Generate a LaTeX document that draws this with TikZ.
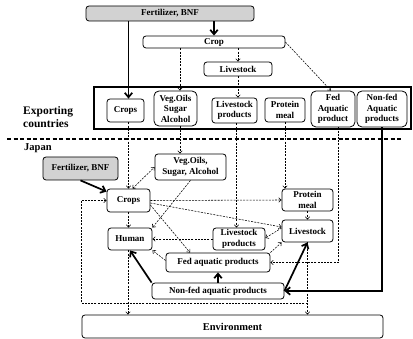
\documentclass[tikz,border=0pt]{standalone}
\usepackage{fontspec}
\setmainfont{Liberation Serif}
\usetikzlibrary{arrows.meta,calc}

\begin{document}
\begin{tikzpicture}[x=1pt,y=-1pt,
  box/.style={draw, line width=0.8pt, rounded corners=3pt, inner sep=0pt,
    align=center, font=\fontsize{9}{10.5}\selectfont\bfseries},
  tallbox/.style={box, rounded corners=5pt},
  src/.style={box, fill=gray!35},
  flow/.style={line width=0.55pt, dash pattern=on 2pt off 1.2pt,
    -{Straight Barb[length=2.5pt,width=4.5pt]}},
  biflow/.style={flow, {Straight Barb[length=2.5pt,width=4.5pt]}-{Straight Barb[length=2.5pt,width=4.5pt]}},
  heavy/.style={line width=1.7pt, -{Straight Barb[length=4.5pt,width=7.5pt]}},
  region/.style={font=\fontsize{11.5}{13}\selectfont\bfseries, inner sep=0pt, align=left, anchor=west},
]
\useasboundingbox (0,0) rectangle (413,339);

% ---------- exporting countries ----------
\node[src, minimum width=168pt, minimum height=15pt] (fertTop) at (170,13.5) {Fertilizer, BNF};
\node[box, minimum width=142pt, minimum height=12pt] (crop) at (214,42) {Crop};
\node[box, minimum width=68pt, minimum height=14pt] (livTop) at (238,69) {Livestock};

\node[draw, line width=1.5pt, minimum width=317pt, minimum height=42pt, inner sep=0pt] (expBox) at (252.5,108) {};
\node[box, minimum width=37pt, minimum height=23pt] (eCrops) at (125.5,110.5) {Crops};
\node[tallbox, minimum width=43pt, minimum height=35pt] (eVeg) at (175.5,108.5) {Veg.Oils\\Sugar\\Alcohol};
\node[box, minimum width=45pt, minimum height=25pt] (eLivP) at (234.5,110.5) {Livestock\\products};
\node[box, minimum width=40pt, minimum height=24pt] (eProt) at (285,110) {Protein\\meal};
\node[tallbox, minimum width=44pt, minimum height=36pt] (eFed) at (333,109) {Fed\\Aquatic\\product};
\node[tallbox, minimum width=50pt, minimum height=36pt] (eNonfed) at (382,109) {Non-fed\\Aquatic\\products};

\node[region] (lblExp) at (23,117.5) {Exporting\\countries};

% border between the two regions
\coordinate (sepL) at (7,139);
\coordinate (sepR) at (402,139);
\draw[line width=1.2pt, dash pattern=on 4pt off 2.5pt] (sepL) -- (sepR);

\node[region, font=\fontsize{10.5}{12}\selectfont\bfseries] (lblJp) at (24,148) {Japan};

% ---------- Japan ----------
\node[src, minimum width=75pt, minimum height=23pt] (jFert) at (80.5,168.5) {Fertilizer, BNF};
\node[box, minimum width=71pt, minimum height=26pt] (jVeg) at (190.5,167) {Veg.Oils,\\Sugar, Alcohol};
\node[box, minimum width=43pt, minimum height=23pt] (jCrops) at (128.5,200.5) {Crops};
\node[box, minimum width=44pt, minimum height=22pt] (jHuman) at (130,239) {Human};
\node[box, minimum width=51pt, minimum height=22pt] (jProt) at (307.5,200) {Protein\\meal};
\node[box, minimum width=51pt, minimum height=22pt] (jLiv) at (307.5,231) {Livestock};
\node[box, minimum width=52pt, minimum height=22pt] (jLivP) at (239,239) {Livestock\\products};
\node[box, minimum width=104pt, minimum height=19pt] (jFed) at (218,262.5) {Fed aquatic products};
\node[box, minimum width=132pt, minimum height=16pt] (jNonfed) at (218,291) {Non-fed aquatic products};
\node[box, minimum width=301pt, minimum height=23pt, font=\fontsize{10.5}{12}\selectfont\bfseries] (env) at (232.5,326.5) {Environment};

% ---------- heavy flows ----------
\draw[heavy] (crop.north |- fertTop.south) -- (crop.north);
\draw[heavy] ([xshift=3pt]eCrops.north |- fertTop.south) -- ([xshift=3pt]eCrops.north);
\draw[heavy] (jFert.south) -- ([yshift=-3pt]jCrops.north west);
\draw[heavy] (jNonfed.north) -- (jFed.south);
\draw[heavy] (jNonfed.north west) -- (jHuman.south);
\draw[heavy] (jNonfed.east) -- (jLiv.south);
\draw[heavy] (eNonfed.south) |- (jNonfed.east);

% ---------- exporting-side flows ----------
\draw[flow] ([xshift=4.5pt]eVeg.north |- crop.south) -- ([xshift=4.5pt]eVeg.north);
\draw[flow] (livTop.north |- crop.south) -- (livTop.north);
\draw[flow] (livTop.south) -- (livTop.south |- eLivP.north);
\draw[flow] (crop.east) -- ([xshift=-2pt]eFed.north);

% ---------- imports ----------
\draw[flow] (jCrops.north |- eCrops.south) -- (jCrops.north);
\draw[flow] ([xshift=4.5pt]eVeg.south) -- ([xshift=4.5pt]eVeg.south |- jVeg.north);
\draw[flow] ([xshift=2pt]eLivP.south) -- ([xshift=2pt]eLivP.south |- jLivP.north);
\draw[flow] (eProt.south) -- (eProt.south |- jProt.north);
\draw[flow] ([xshift=5pt]eFed.south) |- (jFed.east);

% ---------- domestic flows ----------
\draw[biflow] ([xshift=4pt]jCrops.north) -- (jVeg.west);
\draw[flow] (jCrops.south) -- (jCrops.south |- jHuman.north);
\draw[flow] (jVeg.south) -- (jHuman.north east);
\draw[flow] (jCrops.east) -- (jProt.west);
\draw[flow] ([yshift=-2.5pt]jCrops.east) -- ([yshift=4pt]jLiv.west);
\draw[flow] ([yshift=-4.5pt]jCrops.east) -- ([xshift=-28pt]jFed.north);
\draw[flow] (jProt.south) -- (jLiv.north);
\draw[flow] ([yshift=3pt]jLiv.west) -- ([yshift=1pt]jLivP.east);
\draw[flow] (jLivP.west) -- (jHuman.east);
\draw[flow] ([yshift=2pt]jFed.west) -- (jHuman.south east);
\draw[flow] (jFed.north east) -- (jLiv.south west);

% ---------- losses and recycling ----------
\draw[flow] ([xshift=-2pt]jHuman.south) -- ([xshift=-2pt]jHuman.south |- env.north);
\draw[flow] (jLiv.south) -- (jLiv.south |- env.north);
\coordinate (loopR) at (307.5,303);
\coordinate (loopL) at (81,303);
\draw[flow] (loopR) -- (loopL) |- (jCrops.west);
\end{tikzpicture}
\end{document}
